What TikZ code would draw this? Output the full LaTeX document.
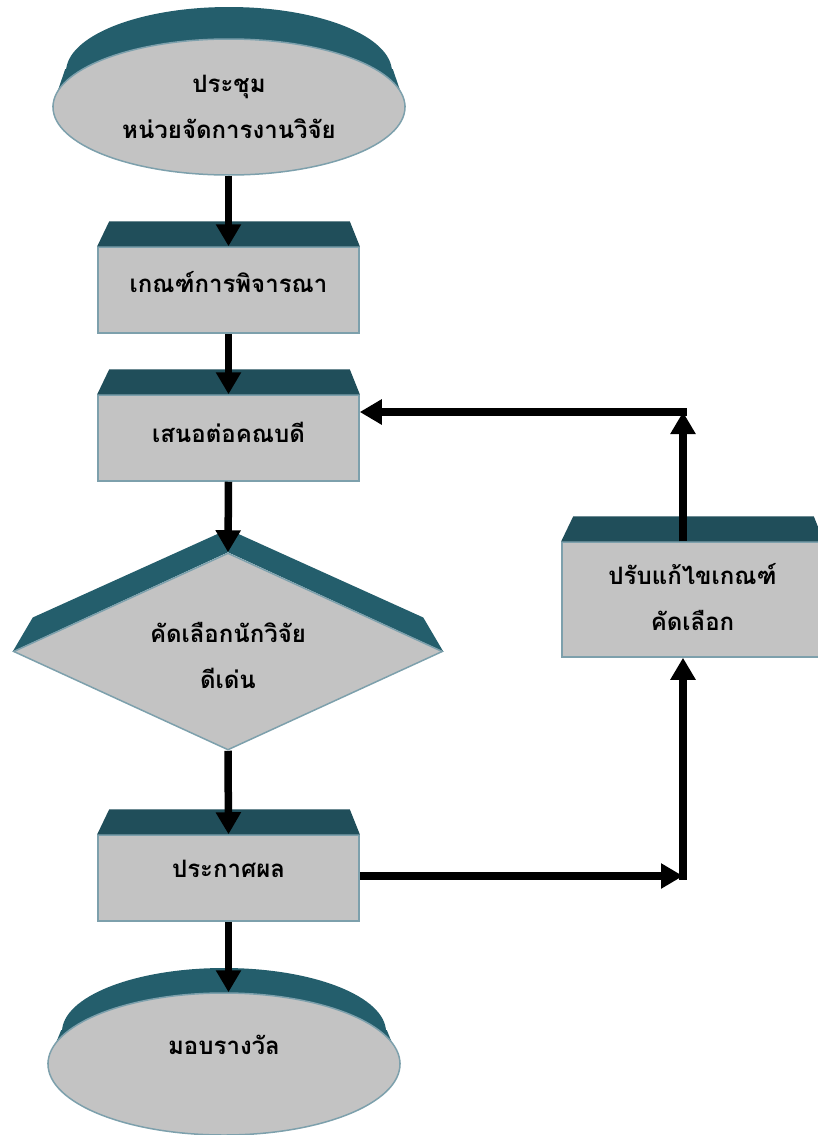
\documentclass[tikz,border=0pt]{standalone}
\usepackage{fontspec}
\newfontfamily\thaifont[Script=Thai]{Loma}
\usetikzlibrary{shapes.geometric,arrows.meta,calc}
\pgfdeclarelayer{background}
\pgfdeclarelayer{canvas}
\pgfsetlayers{canvas,background,main}
\definecolor{band}{RGB}{32,78,90}
\definecolor{bandlt}{RGB}{36,94,108}
\definecolor{facegray}{RGB}{195,195,195}
\definecolor{edgeblue}{RGB}{125,160,172}
\begin{document}
\begin{tikzpicture}[x=1pt,y=-1pt,
 lbl/.style={font=\thaifont\bfseries\fontsize{24}{46}\selectfont, align=center, text=black, inner sep=0pt},
 facestyle/.style={lbl, fill=facegray, draw=edgeblue, line width=1.5pt},
 boxnode/.style={facestyle, rectangle, minimum width=261pt, minimum height=86pt},
 ellnode/.style={facestyle, ellipse, minimum width=352pt, minimum height=136pt},
 dianode/.style={facestyle, diamond, minimum width=429pt, minimum height=197pt},
 arr/.style={line width=7.5pt, -{Triangle[width=24pt,length=22pt]}}]
\useasboundingbox (0,0) rectangle (817,1135);
\begin{pgfonlayer}{canvas}
\fill[white] (0,0) rectangle (817,1135);
\end{pgfonlayer}

% shapes
\node[ellnode] (e1) at (229,107) {ประชุม\\หน่วยจัดการงานวิจัย};
\node[boxnode] (r1) at (228.5,290) {};
\node[lbl] (t1) at ($(r1.center)+(0,-8)$) {เกณฑ์การพิจารณา};
\node[boxnode] (r2) at (228.5,438) {};
\node[lbl] (t2) at ($(r2.center)+(0,-6)$) {เสนอต่อคณบดี};
\node[dianode] (d) at (228,651.5) {};
\node[lbl] (t4) at ($(d.center)+(0,4)$) {คัดเลือกนักวิจัย\\ดีเด่น};
\node[boxnode] (r3) at (228.5,878) {};
\node[lbl] (t3) at ($(r3.center)+(0,-9)$) {ประกาศผล};
\node[ellnode, minimum height=142pt] (e2) at (224,1064) {};
\node[lbl] (t6) at ($(e2.center)+(0,-19)$) {มอบรางวัล};
\node[boxnode, minimum height=115pt] (r4) at (692.5,599.5) {};
\node[lbl] (t5) at ($(r4.center)+(0,-2)$) {ปรับแก้ไขเกณฑ์\\คัดเลือก};

% 3D top bands
\begin{pgfonlayer}{background}
\fill[bandlt] ($(e1.center)+(0,-35)$) ellipse [x radius=163pt, y radius=65pt];
\fill[bandlt] (e1.west) -- ($(e1.west)+(13,-38)$) -- ($(e1.east)+(-13,-38)$) -- (e1.east) -- cycle;
\fill[bandlt] ($(e2.center)+(0,-32)$) ellipse [x radius=162pt, y radius=64pt];
\fill[bandlt] (e2.west) -- ($(e2.west)+(14,-34)$) -- ($(e2.east)+(-14,-34)$) -- (e2.east) -- cycle;
\fill[bandlt] (d.west) -- ($(d.west)+(20,-34)$) -- ($(d.north)+(0,-23)$) -- ($(d.east)+(-20,-34)$) -- (d.east) -- (d.north) -- cycle;
\end{pgfonlayer}
\foreach \b in {r1,r2,r3,r4}{
  \fill[band] ($(\b.north west)+(12,-25)$) -- ($(\b.north east)+(-10,-25)$) -- (\b.north east) -- (\b.north west) -- cycle;
}

% connectors
\coordinate (c1) at (683,876);
\coordinate (c2) at (683,412);
\draw[arr] (e1.south -| r1.north) -- (r1.north);
\draw[arr] (r1.south) -- (r2.north);
\draw[arr] (r2.south) -- (d.north);
\draw[arr] (d.south) -- (r3.north);
\draw[arr] (r3.south) -- (r3.south |- e2.north);
\draw[arr] (r3.east |- c1) -- (c1);
\draw[arr] ($(c1)+(0,3.5)$) -- (c1 |- r4.south);
\draw[arr] (c2 |- r4.north) -- (c2);
\draw[arr] ($(c2)+(3.5,0)$) -- (r2.east |- c2);
\end{tikzpicture}
\end{document}
